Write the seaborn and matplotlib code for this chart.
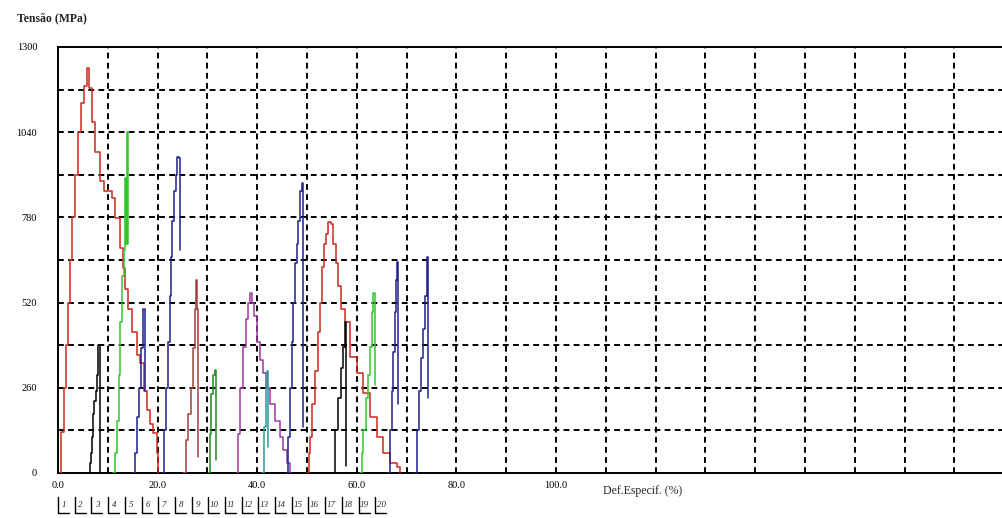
import numpy as np
import pandas as pd
import matplotlib
matplotlib.use("Agg")
import matplotlib.pyplot as plt
from matplotlib.lines import Line2D
import seaborn as sns

# ---------------- data ----------------
s01_x = [0.4, 0.6, 1.2, 1.6, 2.0, 2.4, 2.8, 3.4, 4.0, 4.6, 5.2, 5.8, 6.2, 6.8, 7.4, 8.4, 9.2, 10.8, 11.4, 12.4, 13.1, 13.5, 14.1, 14.9, 15.9, 16.5, 17.3, 17.9, 18.5, 19.1, 19.9, 20.1]
s01_y = [0, 125, 260, 390, 520, 650, 780, 910, 1040, 1130, 1180, 1236, 1175, 1071, 980, 890, 860, 840, 778, 687, 626, 560, 500, 430, 360, 336, 250, 192, 150, 122, 60, 0]
s02_x = [6.0, 6.4, 6.7, 6.9, 7.1, 7.3, 7.6, 7.8, 8.0, 8.4, 8.5]
s02_y = [0, 30, 60, 110, 180, 220, 250, 300, 390, 390, 0]
s03_x = [11.0, 11.4, 11.8, 12.2, 12.5, 12.9, 13.3, 13.5, 13.7, 13.9, 14.1]
s03_y = [0, 60, 160, 300, 460, 600, 680, 900, 700, 1040, 700]
s04_x = [15.1, 15.5, 15.9, 16.3, 16.7, 17.1, 17.4]
s04_y = [0, 60, 170, 260, 380, 500, 250]
s05_x = [20.9, 21.3, 21.7, 22.1, 22.5, 22.7, 22.9, 23.3, 23.7, 23.9, 24.3, 24.4]
s05_y = [0, 130, 260, 400, 540, 660, 770, 860, 910, 965, 960, 680]
s06_x = [25.1, 25.7, 26.1, 26.7, 27.1, 27.5, 27.7, 28.0, 28.1]
s06_y = [0, 100, 180, 260, 380, 500, 590, 500, 50]
s07_x = [30.1, 30.5, 30.7, 31.1, 31.5, 31.8]
s07_y = [0, 120, 240, 300, 315, 40]
s08_x = [35.9, 36.1, 36.5, 37.1, 37.8, 38.2, 38.6, 39.0, 39.4, 40.0, 40.6, 41.2, 41.8, 42.6, 43.6, 44.6, 45.2, 46.0, 46.6]
s08_y = [0, 120, 260, 385, 470, 520, 550, 520, 480, 400, 345, 305, 260, 210, 160, 110, 70, 30, 0]
s09_x = [41.0, 41.4, 41.8, 42.0, 42.2]
s09_y = [0, 140, 260, 310, 80]
s10_x = [45.8, 46.2, 46.6, 47.0, 47.2, 47.6, 48.0, 48.2, 48.6, 48.9, 49.1]
s10_y = [0, 110, 260, 400, 520, 640, 700, 770, 860, 885, 140]
s11_x = [50.0, 50.4, 50.6, 51.0, 51.6, 52.2, 52.6, 53.0, 53.4, 53.8, 54.2, 54.8, 55.2, 55.8, 56.2, 56.8, 57.6, 58.6, 60.0, 61.2, 62.7, 64.1, 65.3, 66.7, 68.1, 68.7]
s11_y = [0, 60, 110, 210, 310, 430, 520, 630, 700, 730, 765, 760, 700, 640, 570, 500, 460, 355, 305, 245, 170, 110, 60, 30, 18, 0]
s12_x = [55.2, 55.6, 56.2, 56.8, 57.2, 57.6, 57.9]
s12_y = [0, 130, 230, 320, 385, 460, 20]
s13_x = [60.6, 61.0, 61.2, 61.8, 62.2, 62.7, 63.0, 63.3, 63.6]
s13_y = [0, 60, 130, 230, 300, 385, 490, 550, 270]
s14_x = [66.3, 66.7, 67.1, 67.3, 67.7, 67.9, 68.1, 68.3]
s14_y = [0, 130, 250, 370, 490, 590, 645, 210]
s15_x = [71.7, 72.1, 72.5, 72.9, 73.3, 73.7, 74.0, 74.2]
s15_y = [0, 130, 250, 350, 440, 540, 660, 230]

series_names = [f"CP{i}" for i in range(1, 16)]
series_x = [s01_x, s02_x, s03_x, s04_x, s05_x, s06_x, s07_x, s08_x, s09_x, s10_x, s11_x, s12_x, s13_x, s14_x, s15_x]
series_y = [s01_y, s02_y, s03_y, s04_y, s05_y, s06_y, s07_y, s08_y, s09_y, s10_y, s11_y, s12_y, s13_y, s14_y, s15_y]
series_colors = ["#c8281e", "#000000", "#2ec82e", "#20208a", "#20208a", "#a0403a",
                 "#1e8c1e", "#9a3aa0", "#2a9a9a", "#20208a", "#c8281e", "#000000",
                 "#2ec82e", "#20208a", "#20208a"]

y_ticks = [0, 260, 520, 780, 1040, 1300]
x_ticks = [0, 20, 40, 60, 80, 100]
x_ticklabels = ["0.0", "20.0", "40.0", "60.0", "80.0", "100.0"]
button_labels = [str(i) for i in range(1, 21)]

# ---------------- build dataframe ----------------
rows = []
for name, xs, ys in zip(series_names, series_x, series_y):
    for k, (xv, yv) in enumerate(zip(xs, ys)):
        rows.append({"serie": name, "ordem": k, "def": xv, "tensao": yv})
df = pd.DataFrame(rows)
palette = dict(zip(series_names, series_colors))

# ---------------- figure ----------------
sns.set_theme(style="white")
plt.rcParams["font.family"] = ["Liberation Serif", "DejaVu Serif"]

W, H = 1003, 518
fig = plt.figure(figsize=(W / 100, H / 100), dpi=100)
fig.patch.set_facecolor("white")
ax = fig.add_axes([58 / W, 45 / H, (W - 58) / W, 426 / H])
ax.set_facecolor("white")

# grid
for gx in np.arange(10, 190, 10):
    ax.axvline(gx, color="black", lw=1.4, ls=(0, (3, 2.2)), zorder=1)
for gy in np.arange(130, 1300, 130):
    ax.axhline(gy, color="black", lw=1.4, ls=(0, (3, 2.2)), zorder=1)

sns.lineplot(data=df, x="def", y="tensao", hue="serie", palette=palette,
             sort=False, estimator=None, units="serie", legend=False,
             drawstyle="steps-post", lw=1.1, ax=ax, zorder=3)

ax.set_xlim(0, (W - 58) / 4.98)
ax.set_ylim(0, 1300)
ax.set_xticks(x_ticks)
ax.set_xticklabels(x_ticklabels)
ax.set_yticks(y_ticks)
ax.set_yticklabels([str(v) for v in y_ticks])
ax.tick_params(axis="both", length=0, labelsize=7.5, colors="black")
ax.tick_params(axis="y", pad=15)
ax.tick_params(axis="x", pad=6)
ax.set_xlabel("")
ax.set_ylabel("")
for side in ["left", "bottom", "top"]:
    ax.spines[side].set_visible(True)
    ax.spines[side].set_color("black")
    ax.spines[side].set_linewidth(1.4)
ax.spines["right"].set_visible(False)

fig.text(17 / W, 1 - 18 / H, "Tensão (MPa)", fontsize=8.5, fontweight="bold",
         va="center", ha="left")
fig.text(603 / W, 1 - 491 / H, "Def.Especif. (%)", fontsize=8.5,
         va="center", ha="left")

# series buttons under the axis
bw = 16.7
for i, lab in enumerate(button_labels):
    x0 = 58 + i * bw
    fig.add_artist(Line2D([x0 / W, x0 / W], [1 - 497 / H, 1 - 513 / H],
                          transform=fig.transFigure, color="black", lw=1.0))
    fig.add_artist(Line2D([x0 / W, (x0 + 11) / W], [1 - 513 / H, 1 - 513 / H],
                          transform=fig.transFigure, color="black", lw=1.0))
    fig.text((x0 + 6) / W, 1 - 505 / H, lab, fontsize=6.5, style="italic",
             va="center", ha="center")

fig.savefig("out.png", dpi=100, facecolor="white")
